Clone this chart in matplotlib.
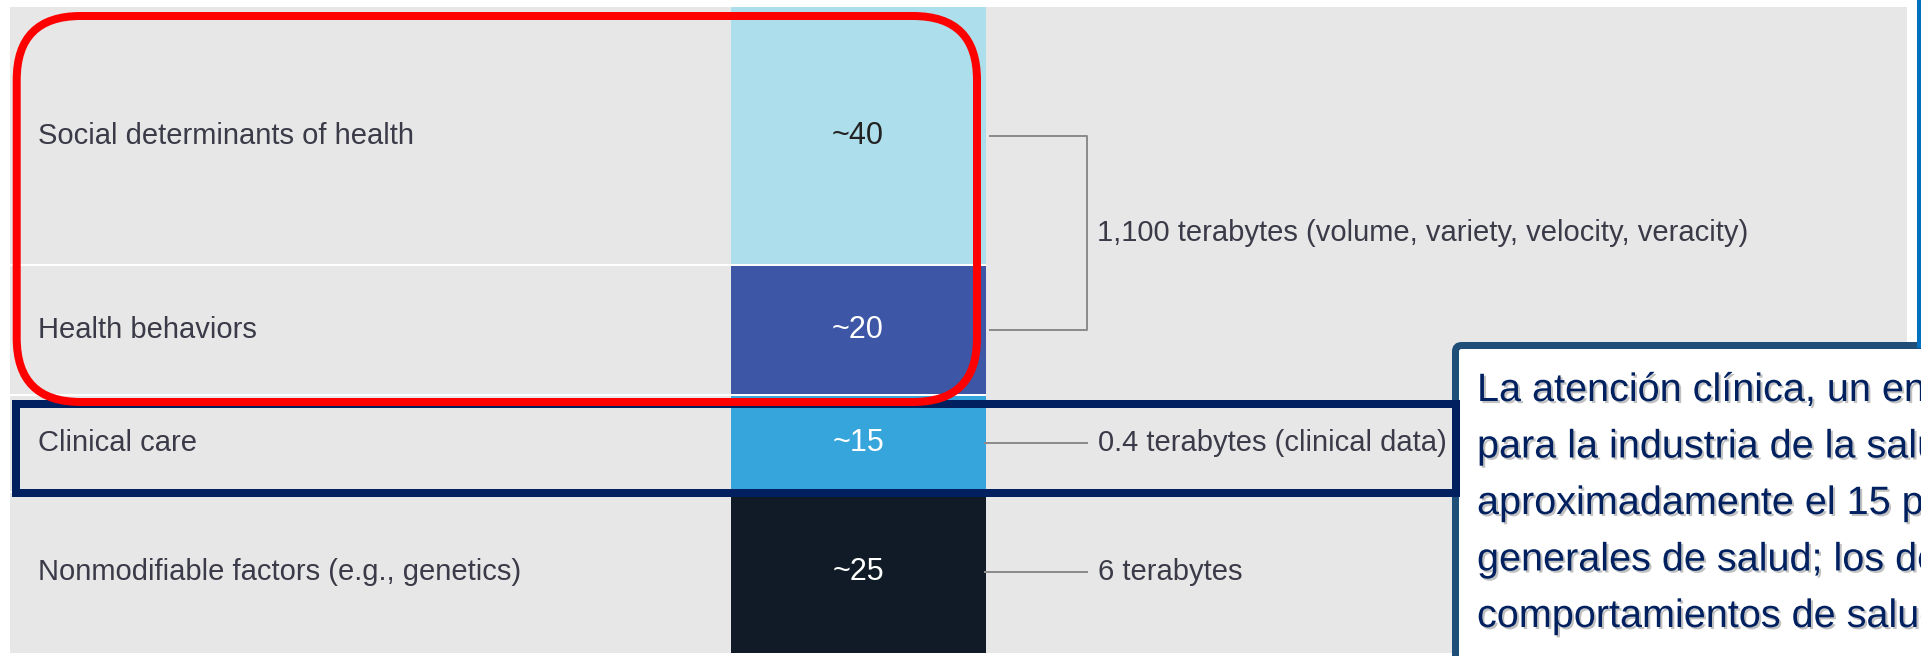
import numpy as np
import matplotlib.pyplot as plt
from matplotlib.patches import Rectangle, FancyBboxPatch
import matplotlib.patheffects as pe

plt.rcParams['font.family'] = ['Liberation Sans', 'DejaVu Sans']

# share of health outcomes by factor, top to bottom
categories = ["Social determinants of health", "Health behaviors",
              "Clinical care", "Nonmodifiable factors (e.g., genetics)"]
shares = [40, 20, 15, 25]
share_labels = ["~40", "~20", "~15", "~25"]
colors = ["#ADDEEB", "#3D56A6", "#35A5DC", "#111B27"]
share_text_colors = ["#222222", "white", "white", "white"]

# data volume notes and the rows each one points at
data_notes = ["1,100 terabytes (volume, variety, velocity, veracity)",
              "0.4 terabytes (clinical data)",
              "6 terabytes"]
note_rows = [[0, 1], [2], [3]]

callout_lines = ["La atención clínica, un enfoque",
                 "para la industria de la salud,",
                 "aproximadamente el 15 por",
                 "generales de salud; los determinantes",
                 "comportamientos de salud"]

W, H = 1921, 656
px = 0.72  # points per pixel at dpi 100
label_color = "#3A3A48"
line_color = "#8C8C8C"

fig = plt.figure(figsize=(W / 100, H / 100), dpi=100)

# grey panel behind everything
bg = fig.add_axes([0, 0, 1, 1])
bg.set_xlim(0, W)
bg.set_ylim(H, 0)
bg.axis('off')
bg.add_patch(Rectangle((10, 7), 1897, 646, fc="#E6E7E6", ec="none"))

# stacked column: x in pixels, y in percent
ax = fig.add_axes([0, 3 / H, 1, 646 / H])
ax.set_xlim(0, W)
ax.set_ylim(100, 0)
ax.axis('off')
ax.patch.set_alpha(0)

shares = np.array(shares)
bottoms = np.concatenate([[0], np.cumsum(shares)[:-1]])
mids = bottoms + shares / 2

ax.bar(858.5, shares, width=255, bottom=bottoms, color=colors)
ax.hlines(np.cumsum(shares)[:-1], 10, 986, color="white", lw=2 * px)

for i in range(len(categories)):
    ax.text(38, mids[i], categories[i], fontsize=21, color=label_color,
            va='center', ha='left')
    ax.text(858, mids[i], share_labels[i], fontsize=22,
            color=share_text_colors[i], va='center', ha='center')

for note, rows in zip(data_notes, note_rows):
    ys = mids[rows]
    if len(rows) > 1:
        ax.plot([990, 1087, 1087, 990], [ys[0], ys[0], ys[-1], ys[-1]],
                color=line_color, lw=2 * px)
        ax.text(1097, ys.mean(), note, fontsize=21, color=label_color,
                va='center', ha='left')
    else:
        ax.plot([985, 1087], [ys[0], ys[0]], color=line_color, lw=2 * px)
        ax.text(1098, ys[0], note, fontsize=21, color=label_color,
                va='center', ha='left')

# highlight boxes and callout on top
ov = fig.add_axes([0, 0, 1, 1])
ov.set_xlim(0, W)
ov.set_ylim(H, 0)
ov.axis('off')
ov.patch.set_alpha(0)

ov.plot([1919, 1919], [0, 346], color="#0070C0", lw=4 * px)
ov.add_patch(FancyBboxPatch((1455.5, 345.5), 600, 400,
                            boxstyle="round,pad=0,rounding_size=6",
                            fc="white", ec="#1F4E79", lw=7 * px))
for i, line in enumerate(callout_lines):
    ov.text(1477, 401 + 56.5 * i, line, fontsize=28.5, color="#002060",
            va='baseline', ha='left',
            path_effects=[pe.withSimplePatchShadow(offset=(1.5, -1.5),
                                                   shadow_rgbFace="#777777",
                                                   alpha=0.45)])

ov.add_patch(Rectangle((16, 404), 1439.5, 88.5, fill=False, ec="#002060",
                       lw=8 * px, joinstyle='miter'))
ov.add_patch(FancyBboxPatch((16.7, 16), 960.3, 386,
                            boxstyle="round,pad=0,rounding_size=64",
                            fill=False, ec="#FF0000", lw=8 * px))

fig.savefig("out.png", dpi=100)
